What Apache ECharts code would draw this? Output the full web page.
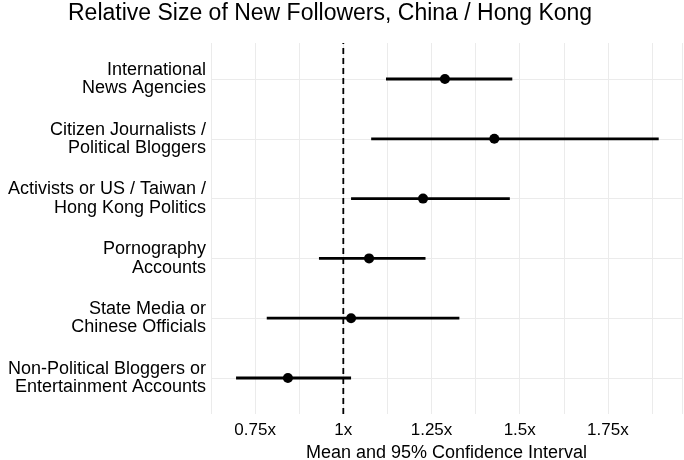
<!DOCTYPE html>
<html>
<head>
<meta charset="utf-8">
<script src="https://cdn.jsdelivr.net/npm/echarts@6/dist/echarts.min.js"></script>
<style>
  html, body { margin: 0; padding: 0; background: #fff; }
  #chart { width: 684px; height: 460px; }
</style>
</head>
<body>
<div id="chart"></div>
<script>
// data
var categories = [
  "International\nNews Agencies",
  "Citizen Journalists /\nPolitical Bloggers",
  "Activists or US / Taiwan /\nHong Kong Politics",
  "Pornography\nAccounts",
  "State Media or\nChinese Officials",
  "Non-Political Bloggers or\nEntertainment Accounts"
];
var means = [1.288, 1.428, 1.226, 1.073, 1.022, 0.843];
var lower = [1.121, 1.079, 1.022, 0.931, 0.783, 0.696];
var upper = [1.479, 1.894, 1.472, 1.233, 1.329, 1.022];
var refValue = 1;
var xTickValues = [0.75, 1, 1.25, 1.5, 1.75];
var xTickLabels = ["0.75x", "1x", "1.25x", "1.5x", "1.75x"];

var font = "Liberation Sans, Arial, Helvetica, sans-serif";
var myChart = echarts.init(document.getElementById("chart"));

var barData = categories.map(function (c, i) {
  return [i, lower[i], upper[i]];
});
var pointData = categories.map(function (c, i) {
  return [means[i], i];
});

var option = {
  animation: false,
  backgroundColor: "#fff",
  title: {
    text: "Relative Size of New Followers, China / Hong Kong",
    left: 68,
    top: 2,
    padding: 0,
    textStyle: { fontFamily: font, fontSize: 23, fontWeight: "normal", color: "#000" }
  },
  grid: [
    // outer panel: vertical grid lines, x labels, reference line
    { left: 211, right: 2, top: 43, bottom: 46, outerBoundsMode: "none" },
    // inner panel: rows
    { left: 211, right: 2, top: 79, bottom: 82, outerBoundsMode: "none" }
  ],
  xAxis: [
    {
      gridIndex: 0,
      type: "value",
      min: 0.625,
      max: 1.96,
      interval: 0.125,
      name: "Mean and 95% Confidence Interval",
      nameLocation: "middle",
      nameGap: 27,
      nameTextStyle: { fontFamily: font, fontSize: 18, color: "#000" },
      axisLine: { show: false },
      axisTick: { show: false },
      splitLine: { show: true, lineStyle: { color: "#ebebeb", width: 1 } },
      axisLabel: {
        margin: 8,
        fontFamily: font,
        fontSize: 17,
        color: "#000",
        showMinLabel: true,
        showMaxLabel: false,
        formatter: function (v) {
          for (var i = 0; i < xTickValues.length; i++) {
            if (Math.abs(v - xTickValues[i]) < 1e-6) return xTickLabels[i];
          }
          return "";
        }
      }
    },
    {
      gridIndex: 1,
      type: "value",
      min: 0.625,
      max: 1.96,
      show: false
    }
  ],
  yAxis: [
    { gridIndex: 0, type: "value", min: 0, max: 1, show: false },
    {
      gridIndex: 1,
      type: "category",
      data: categories,
      inverse: true,
      boundaryGap: false,
      axisLine: { show: false },
      axisTick: { show: false },
      splitLine: { show: true, lineStyle: { color: "#ebebeb", width: 1 } },
      axisLabel: {
        margin: 5,
        fontFamily: font,
        fontSize: 18,
        lineHeight: 18.5,
        color: "#000",
        align: "right"
      }
    }
  ],
  series: [
    {
      name: "ref",
      type: "line",
      xAxisIndex: 0,
      yAxisIndex: 0,
      data: [[refValue, 0], [refValue, 1]],
      symbol: "none",
      silent: true,
      lineStyle: { color: "#000", width: 1.8, type: [6, 4] }
    },
    {
      name: "ci",
      type: "custom",
      xAxisIndex: 1,
      yAxisIndex: 1,
      encode: { x: [1, 2], y: 0 },
      data: barData,
      renderItem: function (params, api) {
        var p1 = api.coord([api.value(1), api.value(0)]);
        var p2 = api.coord([api.value(2), api.value(0)]);
        return {
          type: "line",
          shape: { x1: p1[0], y1: p1[1], x2: p2[0], y2: p2[1] },
          style: { stroke: "#000", lineWidth: 2.8 }
        };
      },
      z: 3
    },
    {
      name: "mean",
      type: "scatter",
      xAxisIndex: 1,
      yAxisIndex: 1,
      data: pointData,
      symbol: "circle",
      symbolSize: 10,
      itemStyle: { color: "#000", opacity: 1 },
      z: 4
    }
  ]
};

option && myChart.setOption(option);
</script>
</body>
</html>
